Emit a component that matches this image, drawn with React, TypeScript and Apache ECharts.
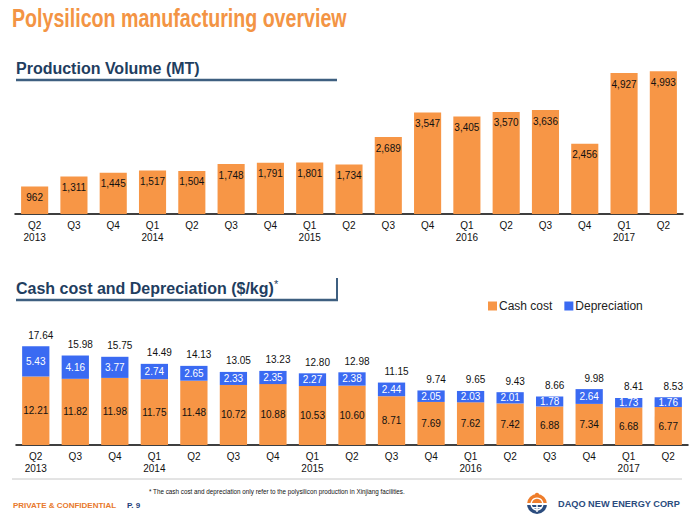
import React, { useEffect, useRef } from "react";
import * as echarts from "echarts";

const categories = ["Q2\n2013", "Q3", "Q4", "Q1\n2014", "Q2", "Q3", "Q4", "Q1\n2015", "Q2", "Q3", "Q4", "Q1\n2016", "Q2", "Q3", "Q4", "Q1\n2017", "Q2"];
const volume = [962, 1311, 1445, 1517, 1504, 1748, 1791, 1801, 1734, 2689, 3547, 3405, 3570, 3636, 2456, 4927, 4993];
const cashCost = [12.21, 11.82, 11.98, 11.75, 11.48, 10.72, 10.88, 10.53, 10.6, 8.71, 7.69, 7.62, 7.42, 6.88, 7.34, 6.68, 6.77];
const depreciation = [5.43, 4.16, 3.77, 2.74, 2.65, 2.33, 2.35, 2.27, 2.38, 2.44, 2.05, 2.03, 2.01, 1.78, 2.64, 1.73, 1.76];
const totals = [17.64, 15.98, 15.75, 14.49, 14.13, 13.05, 13.23, 12.8, 12.98, 11.15, 9.74, 9.65, 9.43, 8.66, 9.98, 8.41, 8.53];

const FONT = "'Liberation Sans', Arial, sans-serif";
const ORANGE = "#F79646";
const BLUE = "#3A6AF2";
const NAVY = "#1F3E5F";

export default function App() {
  const ref = useRef<HTMLDivElement>(null);
  useEffect(() => {
    if (!ref.current) return;
    const chart = echarts.init(ref.current, null, { renderer: "svg" });
    const axisCommon = {
      type: "category" as const,
      data: categories,
      axisLine: { lineStyle: { color: "#000", width: 1.5 } },
      axisTick: { show: false },
      axisLabel: { color: "#111", fontSize: 10, fontFamily: FONT, lineHeight: 11.5, margin: 6, interval: 0 },
    };
    chart.setOption({
      animation: false,
      backgroundColor: "#fff",
      textStyle: { fontFamily: FONT },
      grid: [
        { left: 15, right: 15, top: 71, bottom: 308 },
        { left: 16, right: 10, top: 333, bottom: 77 },
      ],
      xAxis: [
        { ...axisCommon, gridIndex: 0 },
        { ...axisCommon, gridIndex: 1 },
      ],
      yAxis: [
        { type: "value", gridIndex: 0, min: 0, max: 5000, show: false, splitLine: { show: false } },
        { type: "value", gridIndex: 1, min: 0, max: 20, show: false, splitLine: { show: false } },
      ],
      legend: {
        data: ["Cash cost", "Depreciation"],
        left: 483,
        top: 295,
        itemWidth: 9,
        itemHeight: 9,
        itemGap: 12,
        icon: "rect",
        textStyle: { fontSize: 12, color: "#222", fontFamily: FONT, padding: [0, 0, 0, -3] },
      },
      series: [
        {
          name: "Volume",
          type: "bar",
          xAxisIndex: 0,
          yAxisIndex: 0,
          data: volume,
          barWidth: "69%",
          itemStyle: { color: ORANGE },
          label: {
            show: true,
            position: "insideTop",
            distance: 6,
            fontSize: 10,
            color: "#111",
            fontFamily: FONT,
            formatter: (p: any) => Number(p.value).toLocaleString("en-US"),
          },
        },
        {
          name: "Cash cost",
          type: "bar",
          stack: "cost",
          xAxisIndex: 1,
          yAxisIndex: 1,
          data: cashCost,
          barWidth: "69%",
          itemStyle: { color: ORANGE },
          label: {
            show: true,
            position: "inside",
            fontSize: 10,
            color: "#111",
            fontFamily: FONT,
            formatter: (p: any) => Number(p.value).toFixed(2),
          },
        },
        {
          name: "Depreciation",
          type: "bar",
          stack: "cost",
          xAxisIndex: 1,
          yAxisIndex: 1,
          data: depreciation,
          barWidth: "69%",
          itemStyle: { color: BLUE },
          label: {
            show: true,
            position: "inside",
            fontSize: 10,
            color: "#fff",
            fontFamily: FONT,
            formatter: (p: any) => Number(p.value).toFixed(2),
          },
        },
        {
          name: "Total",
          type: "bar",
          stack: "cost",
          xAxisIndex: 1,
          yAxisIndex: 1,
          data: totals.map(() => 0),
          barWidth: "69%",
          itemStyle: { color: "transparent" },
          label: {
            show: true,
            position: "top",
            distance: 6,
            offset: [5, 0],
            fontSize: 10,
            color: "#111",
            fontFamily: FONT,
            formatter: (p: any) => totals[p.dataIndex].toFixed(2),
          },
        },
      ],
      graphic: [
        {
          type: "text",
          x: 12,
          y: 18,
          scaleX: 0.755,
          style: { text: "Polysilicon manufacturing overview", fontSize: 26, fontWeight: "bold", fill: "#F39444", fontFamily: FONT, align: "left", verticalAlign: "middle" },
        },
        {
          type: "text",
          x: 16,
          y: 68,
          style: { text: "Production Volume (MT)", fontSize: 16, fontWeight: "bold", fill: NAVY, fontFamily: FONT, align: "left", verticalAlign: "middle" },
        },
        { type: "line", shape: { x1: 16, y1: 80, x2: 337, y2: 80 }, style: { stroke: "#3E5F80", lineWidth: 2.5 } },
        {
          type: "text",
          x: 16,
          y: 288,
          style: { text: "Cash cost and Depreciation ($/kg)", fontSize: 16, fontWeight: "bold", fill: NAVY, fontFamily: FONT, align: "left", verticalAlign: "middle" },
        },
        {
          type: "text",
          x: 274,
          y: 284,
          style: { text: "*", fontSize: 11, fill: NAVY, fontFamily: FONT, align: "left", verticalAlign: "middle" },
        },
        { type: "line", shape: { x1: 16, y1: 300, x2: 338, y2: 300 }, style: { stroke: "#3E5F80", lineWidth: 2.5 } },
        { type: "line", shape: { x1: 337, y1: 278, x2: 337, y2: 300 }, style: { stroke: "#3E5F80", lineWidth: 2 } },
        { type: "line", shape: { x1: 12, y1: 479, x2: 682, y2: 479 }, style: { stroke: "#C8C8C8", lineWidth: 1 } },
        {
          type: "text",
          x: 149,
          y: 491,
          style: { text: "* The cash cost and depreciation only refer to the polysilicon production in Xinjiang facilities.", fontSize: 6.3, fill: "#111", fontFamily: FONT, align: "left", verticalAlign: "middle" },
        },
        {
          type: "text",
          x: 13,
          y: 505,
          style: { text: "PRIVATE & CONFIDENTIAL", fontSize: 8, fontWeight: "bold", fill: "#E8792C", fontFamily: FONT, align: "left", verticalAlign: "middle" },
        },
        {
          type: "text",
          x: 127,
          y: 505,
          style: { text: "P. 9", fontSize: 8, fontWeight: "bold", fill: "#1F3E7A", fontFamily: FONT, align: "left", verticalAlign: "middle" },
        },
        {
          type: "group",
          x: 537,
          y: 504,
          children: [
            { type: "circle", shape: { cx: 0, cy: -9, r: 2.2 }, style: { fill: "#EE7D2B" } },
            { type: "sector", shape: { cx: 0, cy: 0, r: 10, r0: 0, startAngle: Math.PI, endAngle: Math.PI * 2 }, style: { fill: "#EE7D2B" } },
            { type: "sector", shape: { cx: 0, cy: 0, r: 10, r0: 0, startAngle: 0, endAngle: Math.PI }, style: { fill: "#2B4C7E" } },
            { type: "ring", shape: { cx: 0, cy: 0, r: 6.5, r0: 5.2 }, style: { fill: "#fff" } },
            { type: "rect", shape: { x: -10, y: -1, width: 20, height: 2 }, style: { fill: "#fff" } },
            { type: "rect", shape: { x: -5, y: 3, width: 10, height: 1.4 }, style: { fill: "#fff" } },
            { type: "rect", shape: { x: -0.7, y: 1, width: 1.4, height: 7 }, style: { fill: "#fff" } },
          ],
        },
        {
          type: "text",
          x: 558,
          y: 504,
          style: { text: "DAQO NEW ENERGY CORP", fontSize: 9.2, fontWeight: "bold", fill: "#2B4C7E", fontFamily: FONT, align: "left", verticalAlign: "middle" },
        },
      ],
    });
    return () => chart.dispose();
  }, []);
  return <div ref={ref} style={{ position: "fixed", left: 0, top: 0, width: 698, height: 522 }} />;
}
